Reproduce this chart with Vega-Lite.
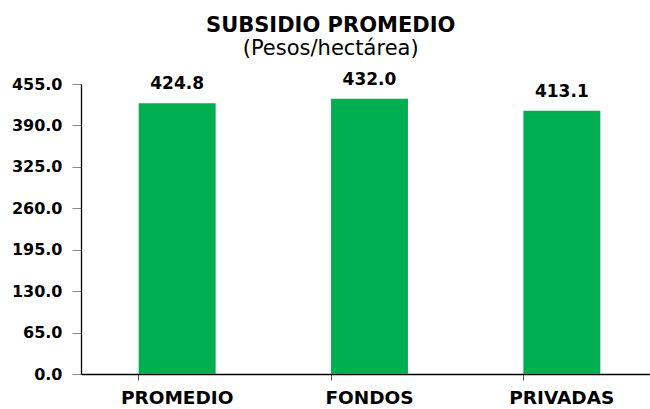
{
  "$schema": "https://vega.github.io/schema/vega-lite/v6.json",
  "autosize": "none",
  "width": 577,
  "height": 290,
  "padding": {"left": 81, "top": 84, "right": 0, "bottom": 35},
  "background": "white",
  "config": {"view": {"stroke": null}, "font": "DejaVu Sans"},
  "title": {
    "text": "SUBSIDIO PROMEDIO",
    "subtitle": "(Pesos/hectárea)",
    "font": "DejaVu Sans",
    "fontSize": 21,
    "fontWeight": "bold",
    "color": "black",
    "subtitleFont": "DejaVu Sans",
    "subtitleFontSize": 21,
    "subtitleColor": "black",
    "subtitlePadding": 2,
    "anchor": "middle",
    "frame": "bounds",
    "dx": -4,
    "offset": 12
  },
  "data": {
    "values": [
      {"categoria": "PROMEDIO", "valor": 424.8},
      {"categoria": "FONDOS", "valor": 432.0},
      {"categoria": "PRIVADAS", "valor": 413.1}
    ]
  },
  "encoding": {
    "x": {
      "field": "categoria",
      "type": "nominal",
      "sort": null,
      "scale": {"paddingInner": 0.6, "paddingOuter": 0.3},
      "axis": {
        "title": null,
        "labelAngle": 0,
        "labelFont": "DejaVu Sans",
        "labelFontSize": 18.5,
        "labelFontWeight": "bold",
        "labelColor": "black",
        "labelPadding": 8,
        "bandPosition": 0,
        "tickSize": 6,
        "tickColor": "#555",
        "domainColor": "black",
        "domainWidth": 1.3
      }
    },
    "y": {
      "field": "valor",
      "type": "quantitative",
      "scale": {"domain": [0, 455], "nice": false},
      "axis": {
        "title": null,
        "values": [0, 65, 130, 195, 260, 325, 390, 455],
        "format": ".1f",
        "grid": false,
        "labelFont": "DejaVu Sans",
        "labelFontSize": 16,
        "labelFontWeight": "bold",
        "labelColor": "black",
        "labelPadding": 10,
        "tickSize": 9,
        "tickColor": "#888",
        "domainColor": "black",
        "domainWidth": 1.3
      }
    }
  },
  "layer": [
    {"mark": {"type": "bar", "color": "#00B050"}},
    {
      "mark": {"type": "text", "dy": -10, "baseline": "bottom", "font": "DejaVu Sans", "fontSize": 17, "fontWeight": "bold", "color": "black"},
      "encoding": {"text": {"field": "valor", "type": "quantitative", "format": ".1f"}}
    }
  ]
}
